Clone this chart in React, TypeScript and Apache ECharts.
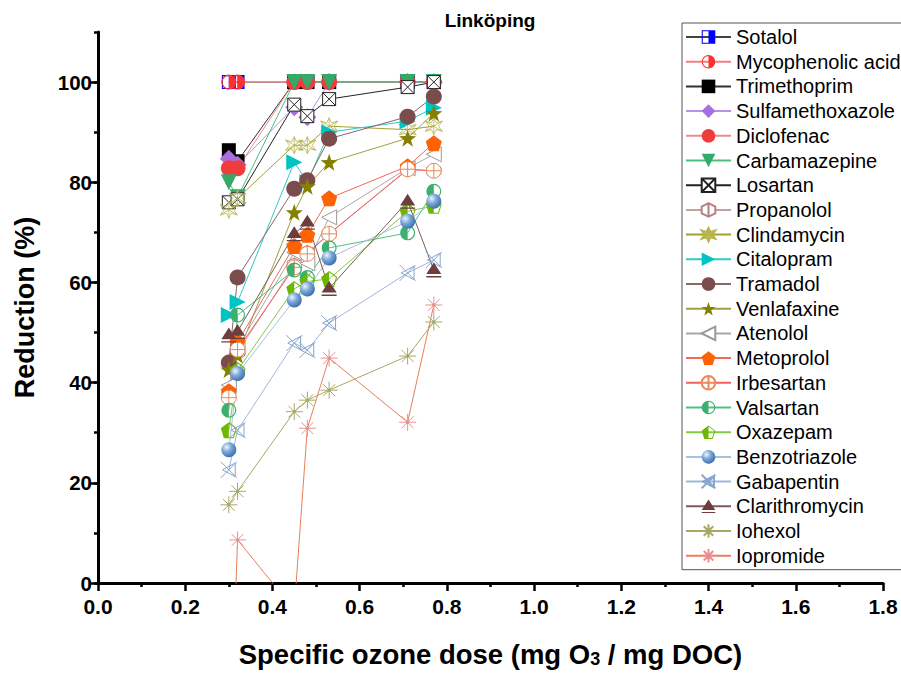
import React, { useEffect, useRef } from 'react';
import * as echarts from 'echarts';

// Specific ozone dose (mg O3 / mg DOC)
const doses = [0.3, 0.32, 0.45, 0.48, 0.53, 0.71, 0.77];

const compoundNames = [
  'Sotalol', 'Mycophenolic acid', 'Trimethoprim', 'Sulfamethoxazole', 'Diclofenac',
  'Carbamazepine', 'Losartan', 'Propanolol', 'Clindamycin', 'Citalopram', 'Tramadol',
  'Venlafaxine', 'Atenolol', 'Metoprolol', 'Irbesartan', 'Valsartan', 'Oxazepam',
  'Benzotriazole', 'Gabapentin', 'Clarithromycin', 'Iohexol', 'Iopromide',
];

// Reduction (%) per compound, one value per dose
const sotalol = [100, 100, 100, 100, 100, 100, 100];
const mycophenolicAcid = [100, 100, 100, 100, 100, 100, 100];
const trimethoprim = [86.4, 84.2, 100, 100, 100, 100, 100];
const sulfamethoxazole = [84.7, 83.5, 95.0, 93.0, 100, 100, 100];
const diclofenac = [82.8, 82.8, 100, 100, 100, 100, 100];
const carbamazepine = [80.0, 77.0, 100, 100, 100, 100, 100];
const losartan = [76.0, 76.6, 95.5, 93.2, 96.6, 99.0, 100];
const propanolol = [37.5, 46.0, 63.5, 66.0, 69.7, 82.5, 82.3];
const clindamycin = [74.5, 76.8, 87.4, 87.4, 91.2, 90.5, 91.2];
const citalopram = [53.5, 56.1, 84.0, 80.0, 90.0, 92.2, 94.9];
const tramadol = [44.0, 61.0, 78.7, 80.4, 88.7, 93.1, 97.1];
const venlafaxine = [42.6, 45.5, 74.0, 79.2, 84.0, 88.8, 93.8];
const atenolol = [39.5, 47.0, 66.0, 63.8, 73.0, 82.8, 85.6];
const metoprolol = [38.3, 48.1, 67.3, 69.5, 76.8, 83.2, 87.8];
const irbesartan = [37.0, 46.6, 63.0, 65.7, 69.7, 82.6, 82.3];
const valsartan = [34.5, 53.5, 62.5, 61.0, 66.9, 69.9, 78.2];
const oxazepam = [30.5, 42.5, 58.7, 60.2, 60.7, 74.2, 75.3];
const benzotriazole = [26.6, 41.8, 56.5, 58.7, 64.9, 72.2, 76.2];
const gabapentin = [22.6, 30.5, 47.9, 46.5, 51.9, 61.9, 64.5];
const clarithromycin = [49.5, 50.2, 69.7, 72.0, 58.8, 76.2, 62.5];
const iohexol = [15.6, 18.3, 34.2, 36.5, 38.5, 45.3, 52.1];
const iopromide = [-40, 8.6, -5.3, 30.9, 44.9, 32.1, 55.5];

const seriesValues = [
  sotalol, mycophenolicAcid, trimethoprim, sulfamethoxazole, diclofenac,
  carbamazepine, losartan, propanolol, clindamycin, citalopram, tramadol,
  venlafaxine, atenolol, metoprolol, irbesartan, valsartan, oxazepam,
  benzotriazole, gabapentin, clarithromycin, iohexol, iopromide,
];

const yTicks = [0, 20, 40, 60, 80, 100];

// ---- marker shapes (20x20 boxes) ----
const P = {
  halfSquare: 'path://M10,0 L20,0 L20,20 L10,20 Z M0,0 L10,0 L10,1.6 L0,1.6 Z M0,18.4 L10,18.4 L10,20 L0,20 Z M0,0 L1.6,0 L1.6,20 L0,20 Z',
  halfCircleRight: 'path://M10,0 A10,10 0 0 1 10,20 Z M10,0 A10,10 0 0 0 10,20 L10,18.4 A8.4,8.4 0 0 1 10,1.6 Z',
  halfCircleLeft: 'path://M10,0 A10,10 0 0 0 10,20 Z M10,0 A10,10 0 0 1 10,20 L10,18.4 A8.4,8.4 0 0 0 10,1.6 Z',
  boxX: 'path://M0,0 L20,0 L20,20 L0,20 Z M0,0 L20,20 M20,0 L0,20',
  hexLine: 'path://M10,0 L18.7,5 L18.7,15 L10,20 L1.3,15 L1.3,5 Z M10,0 L10,20',
  burst: 'path://M10,0 L12.5,6 L19,4 L15,10 L19,16 L12.5,14 L10,20 L7.5,14 L1,16 L5,10 L1,4 L7.5,6 Z M10,0 L10,20 M1,4 L19,16 M19,4 L1,16',
  star: 'path://M10,0.5 L12.35,7.26 L19.5,7.4 L13.8,11.74 L15.9,18.6 L10,14.5 L4.1,18.6 L6.2,11.74 L0.5,7.4 L7.65,7.26 Z',
  leftTri: 'path://M0,10 L20,0 L20,20 Z',
  pentagon: 'path://M10,0 L19.5,7.3 L15.9,19 L4.1,19 L0.5,7.3 Z',
  halfPentagon: 'path://M10,0 L0.5,7.3 L4.1,19 L10,19 Z M10,0 L19.5,7.3 L15.9,19 L10,19 L10,17.7 L15,17.7 L18.1,7.8 L10,1.6 Z',
  circlePlus: 'path://M0,10 A10,10 0 1 1 20,10 A10,10 0 1 1 0,10 Z M10,0 L10,20 M0,10 L20,10',
  bowtie: 'path://M0,0 L20,20 M20,0 L0,20 M2,10 L18,1.5 L18,18.5 Z',
  triBar: 'path://M10,0 L20,15.5 L0,15.5 Z M0,18.2 L20,18.2 L20,20 L0,20 Z',
  asterisk: 'path://M10,0 L10,20 M0,10 L20,10 M3,3 L17,17 M17,3 L3,17 M8.8,8.8 L11.2,8.8 L11.2,11.2 L8.8,11.2 Z',
};

const CLEAR = 'rgba(255,255,255,0)';

type Sty = { symbol: string; size: number; fill: any; stroke?: string; bw?: number; rotate?: number; line: string };

const styles: Sty[] = [
  { symbol: P.halfSquare, size: 14, fill: '#0000ff', line: '#444444' },
  { symbol: P.halfCircleRight, size: 15, fill: '#ff3030', line: '#f08080' },
  { symbol: 'rect', size: 14, fill: '#000000', line: '#333333' },
  { symbol: 'diamond', size: 18, fill: '#a86ee0', line: '#b890e8' },
  { symbol: 'circle', size: 16, fill: '#f03c3c', line: '#f08a8a' },
  { symbol: 'triangle', size: 16, fill: '#36a868', rotate: 180, line: '#4cbf80' },
  { symbol: P.boxX, size: 13, fill: '#ffffff', stroke: '#222222', bw: 1, line: '#222222' },
  { symbol: P.hexLine, size: 14, fill: '#ffffff', stroke: '#b88080', bw: 1, line: '#c8a0a0' },
  { symbol: P.burst, size: 17, fill: CLEAR, stroke: '#b8b450', bw: 0.8, line: '#a0a030' },
  { symbol: 'triangle', size: 16, fill: '#00c4c4', rotate: -90, line: '#30c8c8' },
  { symbol: 'circle', size: 16, fill: '#7a4c4c', line: '#8a6666' },
  { symbol: P.star, size: 17, fill: '#858000', line: '#a0a040' },
  { symbol: P.leftTri, size: 15, fill: '#ffffff', stroke: '#9a9a9a', bw: 1, line: '#a8a8a8' },
  { symbol: P.pentagon, size: 16, fill: '#ff6200', line: '#f06a5a' },
  { symbol: P.circlePlus, size: 15, fill: '#ffffff', stroke: '#e88a5a', bw: 1, line: '#f06060' },
  { symbol: P.halfCircleLeft, size: 15, fill: '#3cb06e', line: '#50c080' },
  { symbol: P.halfPentagon, size: 16, fill: '#6cb800', line: '#86c848' },
  {
    symbol: 'circle', size: 15,
    fill: new echarts.graphic.RadialGradient(0.35, 0.32, 0.7, [
      { offset: 0, color: '#eef5ff' },
      { offset: 0.45, color: '#7eaadc' },
      { offset: 1, color: '#3f70aa' },
    ]),
    line: '#a8c0e0',
  },
  { symbol: P.bowtie, size: 16, fill: CLEAR, stroke: '#88a6cc', bw: 1, line: '#9cb8dc' },
  { symbol: P.triBar, size: 15, fill: '#6e3e3e', line: '#7e5a5a' },
  { symbol: P.asterisk, size: 17, fill: '#8a8a30', stroke: '#a8a868', bw: 1, line: '#a8a860' },
  { symbol: P.asterisk, size: 17, fill: '#e02020', stroke: '#e89090', bw: 1, line: '#e8805a' },
];

const FONT = '"Liberation Sans", Arial, sans-serif';

export default function App() {
  const ref = useRef<HTMLDivElement>(null);

  useEffect(() => {
    if (!ref.current) return;
    const chart = echarts.init(ref.current, null, { renderer: 'svg' });

    const series = compoundNames.map((name, k) => {
      const s = styles[k];
      return {
        name,
        type: 'line',
        data: doses.map((d, i) => [d, seriesValues[k][i]]),
        symbol: s.symbol,
        symbolSize: s.size,
        symbolRotate: s.rotate || 0,
        showAllSymbol: true,
        clip: true,
        lineStyle: { color: s.line, width: 1 },
        itemStyle: {
          color: s.fill,
          borderColor: s.stroke || s.fill,
          borderWidth: s.stroke ? (s.bw || 1) : 0,
          opacity: 1,
        },
        emphasis: { disabled: true },
        z: 2,
      };
    });

    const option: any = {
      animation: false,
      backgroundColor: '#ffffff',
      graphic: [
        {
          type: 'text',
          x: 490,
          y: 20,
          style: {
            text: 'Linköping',
            fontFamily: FONT,
            fontSize: 19,
            fontWeight: 'bold',
            fill: '#000',
            textAlign: 'center',
            textVerticalAlign: 'middle',
          },
        },
      ],
      grid: { left: 98, right: 18, top: 32, bottom: 90, containLabel: false },
      legend: {
        orient: 'vertical',
        left: 682,
        top: 23,
        itemWidth: 45,
        itemHeight: 17,
        itemGap: 4.7,
        padding: [4, 20, 4, 3],
        backgroundColor: '#ffffff',
        borderColor: '#555555',
        borderWidth: 1,
        selectedMode: false,
        textStyle: { fontFamily: FONT, fontSize: 20, color: '#000', lineHeight: 20 },
        data: compoundNames,
        z: 10,
      },
      xAxis: {
        type: 'value',
        min: 0,
        max: 1.8,
        interval: 0.2,
        name: 'Specific ozone dose (mg O{sub|3} / mg DOC)',
        nameLocation: 'middle',
        nameGap: 57,
        nameTextStyle: {
          fontFamily: FONT,
          fontSize: 27.5,
          fontWeight: 'bold',
          color: '#000',
          rich: {
            sub: { fontFamily: FONT, fontSize: 18, fontWeight: 'bold', color: '#000', verticalAlign: 'bottom', padding: [10, 0, 0, 0] },
          },
        },
        axisLine: { show: true, onZero: false, lineStyle: { color: '#000', width: 3 } },
        axisTick: { show: true, inside: false, length: 8, lineStyle: { color: '#000', width: 2.5 } },
        minorTick: { show: true, splitNumber: 2, length: 4, lineStyle: { color: '#000', width: 2.5 } },
        axisLabel: {
          fontFamily: FONT,
          fontSize: 21,
          fontWeight: 'bold',
          color: '#000',
          margin: 13,
          formatter: (v: number) => v.toFixed(1),
        },
        splitLine: { show: false },
      },
      yAxis: [
        {
          type: 'value',
          min: 0,
          max: 110,
          interval: 10,
          position: 'left',
          axisLine: { show: true, onZero: false, lineStyle: { color: '#000', width: 3 } },
          axisTick: { show: true, inside: false, length: 4, lineStyle: { color: '#000', width: 2.5 } },
          axisLabel: { show: false },
          splitLine: { show: false },
          name: 'Reduction (%)',
          nameLocation: 'middle',
          nameGap: 60,
          nameRotate: 90,
          nameTextStyle: { fontFamily: FONT, fontSize: 27, fontWeight: 'bold', color: '#000' },
        },
        {
          type: 'value',
          min: 0,
          max: 110,
          interval: 20,
          position: 'left',
          offset: 0,
          axisLine: { show: false },
          axisTick: { show: true, inside: false, length: 8, customValues: yTicks, lineStyle: { color: '#000', width: 2.5 } },
          axisLabel: {
            show: true,
            customValues: yTicks,
            fontFamily: FONT,
            fontSize: 20.5,
            fontWeight: 'bold',
            color: '#000',
            margin: 6,
          },
          splitLine: { show: false },
        },
      ],
      series,
    };

    chart.setOption(option);
    return () => chart.dispose();
  }, []);

  return <div ref={ref} style={{ position: 'absolute', left: 0, top: 0, width: 901, height: 673 }} />;
}
